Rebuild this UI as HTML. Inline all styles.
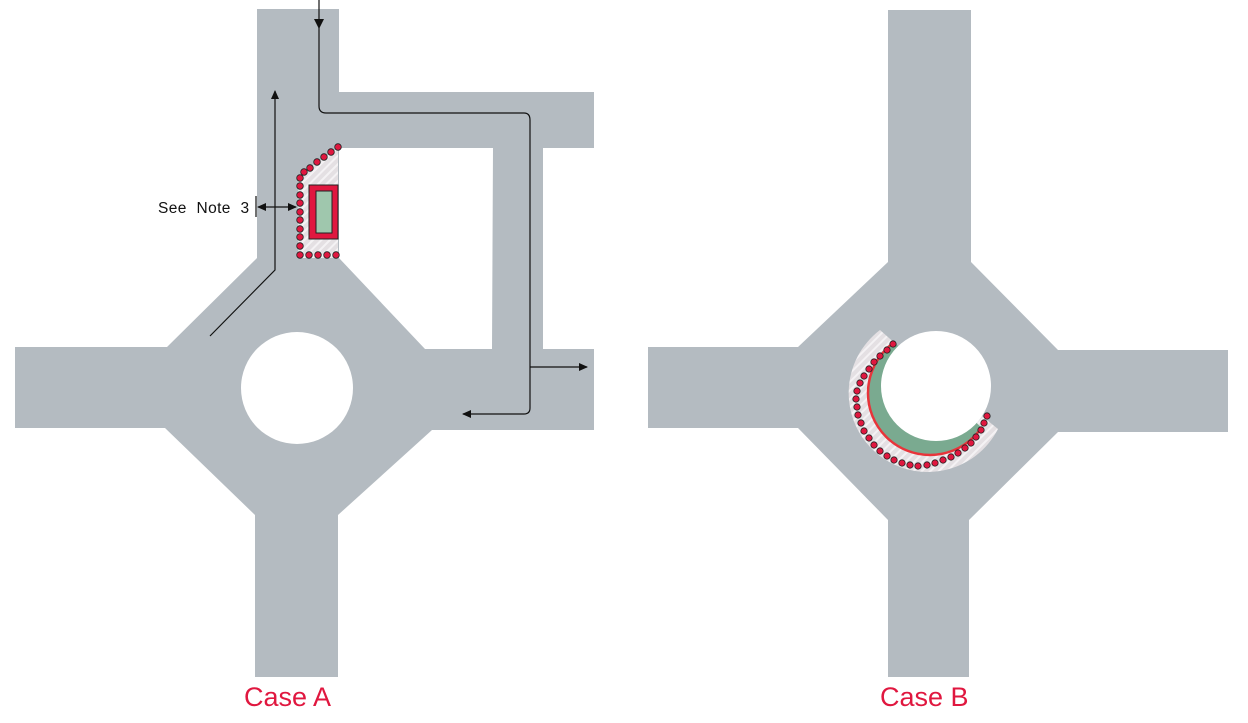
<!DOCTYPE html>
<html><head><meta charset="utf-8"><style>html,body{margin:0;padding:0;background:#fff}svg{display:block}</style></head><body>
<svg width="1248" height="723" viewBox="0 0 1248 723" xmlns="http://www.w3.org/2000/svg">
<defs>
<pattern id="h" width="6" height="6" patternUnits="userSpaceOnUse" patternTransform="rotate(45)">
<rect width="6" height="6" fill="#e4e0e3"/><rect width="2" height="6" fill="#f4f2f4"/></pattern>
<marker id="ar" markerWidth="10" markerHeight="10" refX="8" refY="5" orient="auto" markerUnits="userSpaceOnUse"><path d="M0,1 L9,5 L0,9 Z" fill="#111"/></marker>
<clipPath id="cg"><polygon points="888,336 992,438 800,560 780,300"/></clipPath>
</defs>
<g fill="#b4bbc1">
<path d="M257,9 H339 V258 L425,349 H594 V430 H432 L338,515 V677 H255 V515 L165,428 H15 V347 H167 L257,258 Z"/>
<path d="M338,92 H594 V148 H543 V349 H492 L493,148 H338 Z"/>
<path d="M888,10 H971 V262 L1058,350 H1228 V432 H1058 L969,520 V677 H888 V520 L798,428 H648 V347 H798 L888,262 Z"/>
</g>
<circle cx="297" cy="388" r="56" fill="#fff"/>
<path d="M298,176 L338,148 V258 H298 Z" fill="url(#h)"/>
<rect x="309" y="185" width="29" height="54" fill="#e0173f" stroke="#222" stroke-width="1"/>
<rect x="316" y="191" width="16" height="42" fill="#9fc7ad" stroke="#222" stroke-width="1"/>
<g fill="#e0173f" stroke="#222" stroke-width="0.8">
<circle cx="338" cy="147" r="3.3"/><circle cx="331" cy="152" r="3.3"/><circle cx="324" cy="157" r="3.3"/><circle cx="317" cy="162" r="3.3"/><circle cx="310" cy="168" r="3.3"/><circle cx="304" cy="172" r="3.3"/>
<circle cx="300" cy="178" r="3.3"/><circle cx="300" cy="186" r="3.3"/><circle cx="300" cy="195" r="3.3"/><circle cx="300" cy="203" r="3.3"/><circle cx="300" cy="212" r="3.3"/><circle cx="300" cy="220" r="3.3"/><circle cx="300" cy="229" r="3.3"/><circle cx="300" cy="237" r="3.3"/><circle cx="300" cy="246" r="3.3"/><circle cx="300" cy="255" r="3.3"/>
<circle cx="309" cy="255" r="3.3"/><circle cx="318" cy="255" r="3.3"/><circle cx="327" cy="255" r="3.3"/><circle cx="336" cy="255" r="3.3"/>
</g>
<g fill="none" stroke="#111" stroke-width="1.2">
<path d="M319,0 V106 Q319,113 326,113 H524 Q530,113 530,120 V408 Q530,414 524,414 H463" marker-end="url(#ar)"/>
<path d="M530,367 H587" marker-end="url(#ar)"/>
<path d="M210,336 L275,270 V91" marker-end="url(#ar)"/>
<path d="M270,207 H258" marker-end="url(#ar)"/>
<path d="M270,207 H296" marker-end="url(#ar)"/>
<path d="M256,196 V217"/>
</g>
<path d="M314,19 L324,19 L319,29 Z" fill="#111"/>
<text x="158" y="213" font-family="Liberation Sans, sans-serif" font-size="15.5" fill="#111" letter-spacing="0.4" word-spacing="5">See Note 3</text>
<!-- Case B -->
<path d="M880,330 A79,79 0 1 0 998,429 L982,416 A55,55 0 1 1 898,346 Z" fill="url(#h)"/>
<circle cx="930" cy="393" r="62" fill="#7aaa90" clip-path="url(#cg)"/>
<circle cx="936" cy="386" r="55" fill="#fff"/>
<circle cx="930" cy="393" r="62" fill="none" stroke="#e8343a" stroke-width="2.5" clip-path="url(#cg)"/>
<g fill="#e0173f" stroke="#222" stroke-width="0.8">
<circle cx="893" cy="344" r="3.2"/><circle cx="887" cy="350" r="3.2"/><circle cx="880" cy="356" r="3.2"/><circle cx="874" cy="362" r="3.2"/><circle cx="869" cy="369" r="3.2"/><circle cx="864" cy="376" r="3.2"/><circle cx="860" cy="383" r="3.2"/><circle cx="857" cy="391" r="3.2"/><circle cx="856" cy="399" r="3.2"/><circle cx="857" cy="407" r="3.2"/><circle cx="858" cy="415" r="3.2"/><circle cx="861" cy="423" r="3.2"/><circle cx="864" cy="431" r="3.2"/><circle cx="869" cy="438" r="3.2"/><circle cx="874" cy="445" r="3.2"/><circle cx="880" cy="451" r="3.2"/><circle cx="887" cy="456" r="3.2"/><circle cx="894" cy="460" r="3.2"/><circle cx="902" cy="463" r="3.2"/><circle cx="910" cy="465" r="3.2"/><circle cx="918" cy="466" r="3.2"/><circle cx="927" cy="465" r="3.2"/><circle cx="935" cy="463" r="3.2"/><circle cx="943" cy="460" r="3.2"/><circle cx="951" cy="457" r="3.2"/><circle cx="958" cy="453" r="3.2"/><circle cx="965" cy="448" r="3.2"/><circle cx="971" cy="443" r="3.2"/><circle cx="976" cy="437" r="3.2"/><circle cx="981" cy="430" r="3.2"/><circle cx="984" cy="423" r="3.2"/><circle cx="987" cy="416" r="3.2"/>
</g>
<text x="244" y="706" font-family="Liberation Sans, sans-serif" font-size="27" fill="#e0173f">Case A</text>
<text x="880" y="706" font-family="Liberation Sans, sans-serif" font-size="27" fill="#e0173f">Case B</text>
</svg>
</body></html>
